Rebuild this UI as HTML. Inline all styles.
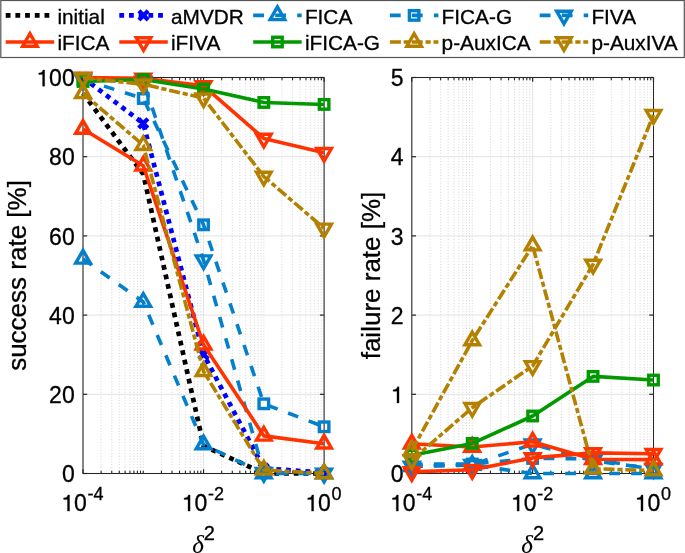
<!DOCTYPE html>
<html><head><meta charset="utf-8"><style>
html,body{margin:0;padding:0;background:#fff;}
svg{display:block;}
text{font-family:"Liberation Sans",sans-serif;fill:#000;stroke:#000;stroke-width:0.3px;}
svg{-webkit-font-smoothing:antialiased;will-change:transform;}
</style></head><body>
<svg width="685" height="553" viewBox="0 0 685 553">
<rect x="0" y="0" width="685" height="553" fill="#fff"/>
<line x1="101.14" y1="473.5" x2="101.14" y2="77.5" stroke="#d0d0d0" stroke-width="0.9" stroke-dasharray="1 1.78"/>
<line x1="111.76" y1="473.5" x2="111.76" y2="77.5" stroke="#d0d0d0" stroke-width="0.9" stroke-dasharray="1 1.78"/>
<line x1="119.29" y1="473.5" x2="119.29" y2="77.5" stroke="#d0d0d0" stroke-width="0.9" stroke-dasharray="1 1.78"/>
<line x1="125.13" y1="473.5" x2="125.13" y2="77.5" stroke="#d0d0d0" stroke-width="0.9" stroke-dasharray="1 1.78"/>
<line x1="129.9" y1="473.5" x2="129.9" y2="77.5" stroke="#d0d0d0" stroke-width="0.9" stroke-dasharray="1 1.78"/>
<line x1="133.94" y1="473.5" x2="133.94" y2="77.5" stroke="#d0d0d0" stroke-width="0.9" stroke-dasharray="1 1.78"/>
<line x1="137.43" y1="473.5" x2="137.43" y2="77.5" stroke="#d0d0d0" stroke-width="0.9" stroke-dasharray="1 1.78"/>
<line x1="140.52" y1="473.5" x2="140.52" y2="77.5" stroke="#d0d0d0" stroke-width="0.9" stroke-dasharray="1 1.78"/>
<line x1="161.42" y1="473.5" x2="161.42" y2="77.5" stroke="#d0d0d0" stroke-width="0.9" stroke-dasharray="1 1.78"/>
<line x1="172.03" y1="473.5" x2="172.03" y2="77.5" stroke="#d0d0d0" stroke-width="0.9" stroke-dasharray="1 1.78"/>
<line x1="179.56" y1="473.5" x2="179.56" y2="77.5" stroke="#d0d0d0" stroke-width="0.9" stroke-dasharray="1 1.78"/>
<line x1="185.41" y1="473.5" x2="185.41" y2="77.5" stroke="#d0d0d0" stroke-width="0.9" stroke-dasharray="1 1.78"/>
<line x1="190.18" y1="473.5" x2="190.18" y2="77.5" stroke="#d0d0d0" stroke-width="0.9" stroke-dasharray="1 1.78"/>
<line x1="194.21" y1="473.5" x2="194.21" y2="77.5" stroke="#d0d0d0" stroke-width="0.9" stroke-dasharray="1 1.78"/>
<line x1="197.71" y1="473.5" x2="197.71" y2="77.5" stroke="#d0d0d0" stroke-width="0.9" stroke-dasharray="1 1.78"/>
<line x1="200.79" y1="473.5" x2="200.79" y2="77.5" stroke="#d0d0d0" stroke-width="0.9" stroke-dasharray="1 1.78"/>
<line x1="221.69" y1="473.5" x2="221.69" y2="77.5" stroke="#d0d0d0" stroke-width="0.9" stroke-dasharray="1 1.78"/>
<line x1="232.31" y1="473.5" x2="232.31" y2="77.5" stroke="#d0d0d0" stroke-width="0.9" stroke-dasharray="1 1.78"/>
<line x1="239.84" y1="473.5" x2="239.84" y2="77.5" stroke="#d0d0d0" stroke-width="0.9" stroke-dasharray="1 1.78"/>
<line x1="245.68" y1="473.5" x2="245.68" y2="77.5" stroke="#d0d0d0" stroke-width="0.9" stroke-dasharray="1 1.78"/>
<line x1="250.45" y1="473.5" x2="250.45" y2="77.5" stroke="#d0d0d0" stroke-width="0.9" stroke-dasharray="1 1.78"/>
<line x1="254.49" y1="473.5" x2="254.49" y2="77.5" stroke="#d0d0d0" stroke-width="0.9" stroke-dasharray="1 1.78"/>
<line x1="257.98" y1="473.5" x2="257.98" y2="77.5" stroke="#d0d0d0" stroke-width="0.9" stroke-dasharray="1 1.78"/>
<line x1="261.07" y1="473.5" x2="261.07" y2="77.5" stroke="#d0d0d0" stroke-width="0.9" stroke-dasharray="1 1.78"/>
<line x1="281.97" y1="473.5" x2="281.97" y2="77.5" stroke="#d0d0d0" stroke-width="0.9" stroke-dasharray="1 1.78"/>
<line x1="292.58" y1="473.5" x2="292.58" y2="77.5" stroke="#d0d0d0" stroke-width="0.9" stroke-dasharray="1 1.78"/>
<line x1="300.11" y1="473.5" x2="300.11" y2="77.5" stroke="#d0d0d0" stroke-width="0.9" stroke-dasharray="1 1.78"/>
<line x1="305.96" y1="473.5" x2="305.96" y2="77.5" stroke="#d0d0d0" stroke-width="0.9" stroke-dasharray="1 1.78"/>
<line x1="310.73" y1="473.5" x2="310.73" y2="77.5" stroke="#d0d0d0" stroke-width="0.9" stroke-dasharray="1 1.78"/>
<line x1="314.76" y1="473.5" x2="314.76" y2="77.5" stroke="#d0d0d0" stroke-width="0.9" stroke-dasharray="1 1.78"/>
<line x1="318.26" y1="473.5" x2="318.26" y2="77.5" stroke="#d0d0d0" stroke-width="0.9" stroke-dasharray="1 1.78"/>
<line x1="321.34" y1="473.5" x2="321.34" y2="77.5" stroke="#d0d0d0" stroke-width="0.9" stroke-dasharray="1 1.78"/>
<line x1="143.28" y1="473.5" x2="143.28" y2="77.5" stroke="#d0d0d0" stroke-width="0.9" stroke-dasharray="1 1.78"/>
<line x1="263.83" y1="473.5" x2="263.83" y2="77.5" stroke="#d0d0d0" stroke-width="0.9" stroke-dasharray="1 1.78"/>
<line x1="83" y1="473.5" x2="83" y2="77.5" stroke="#e3e3e3" stroke-width="1"/>
<line x1="203.55" y1="473.5" x2="203.55" y2="77.5" stroke="#e3e3e3" stroke-width="1"/>
<line x1="324.1" y1="473.5" x2="324.1" y2="77.5" stroke="#e3e3e3" stroke-width="1"/>
<line x1="83" y1="473.5" x2="324.1" y2="473.5" stroke="#e3e3e3" stroke-width="1"/>
<line x1="83" y1="394.3" x2="324.1" y2="394.3" stroke="#e3e3e3" stroke-width="1"/>
<line x1="83" y1="315.1" x2="324.1" y2="315.1" stroke="#e3e3e3" stroke-width="1"/>
<line x1="83" y1="235.9" x2="324.1" y2="235.9" stroke="#e3e3e3" stroke-width="1"/>
<line x1="83" y1="156.7" x2="324.1" y2="156.7" stroke="#e3e3e3" stroke-width="1"/>
<line x1="83" y1="77.5" x2="324.1" y2="77.5" stroke="#e3e3e3" stroke-width="1"/>
<rect x="83" y="77.5" width="241.1" height="396" fill="none" stroke="#262626" stroke-width="1.05"/>
<line x1="83" y1="473.5" x2="83" y2="469.3" stroke="#262626" stroke-width="1.2"/>
<line x1="83" y1="77.5" x2="83" y2="81.7" stroke="#262626" stroke-width="1.2"/>
<line x1="203.55" y1="473.5" x2="203.55" y2="469.3" stroke="#262626" stroke-width="1.2"/>
<line x1="203.55" y1="77.5" x2="203.55" y2="81.7" stroke="#262626" stroke-width="1.2"/>
<line x1="324.1" y1="473.5" x2="324.1" y2="469.3" stroke="#262626" stroke-width="1.2"/>
<line x1="324.1" y1="77.5" x2="324.1" y2="81.7" stroke="#262626" stroke-width="1.2"/>
<line x1="101.14" y1="473.5" x2="101.14" y2="470.7" stroke="#262626" stroke-width="1.1"/>
<line x1="101.14" y1="77.5" x2="101.14" y2="80.3" stroke="#262626" stroke-width="1.1"/>
<line x1="111.76" y1="473.5" x2="111.76" y2="470.7" stroke="#262626" stroke-width="1.1"/>
<line x1="111.76" y1="77.5" x2="111.76" y2="80.3" stroke="#262626" stroke-width="1.1"/>
<line x1="119.29" y1="473.5" x2="119.29" y2="470.7" stroke="#262626" stroke-width="1.1"/>
<line x1="119.29" y1="77.5" x2="119.29" y2="80.3" stroke="#262626" stroke-width="1.1"/>
<line x1="125.13" y1="473.5" x2="125.13" y2="470.7" stroke="#262626" stroke-width="1.1"/>
<line x1="125.13" y1="77.5" x2="125.13" y2="80.3" stroke="#262626" stroke-width="1.1"/>
<line x1="129.9" y1="473.5" x2="129.9" y2="470.7" stroke="#262626" stroke-width="1.1"/>
<line x1="129.9" y1="77.5" x2="129.9" y2="80.3" stroke="#262626" stroke-width="1.1"/>
<line x1="133.94" y1="473.5" x2="133.94" y2="470.7" stroke="#262626" stroke-width="1.1"/>
<line x1="133.94" y1="77.5" x2="133.94" y2="80.3" stroke="#262626" stroke-width="1.1"/>
<line x1="137.43" y1="473.5" x2="137.43" y2="470.7" stroke="#262626" stroke-width="1.1"/>
<line x1="137.43" y1="77.5" x2="137.43" y2="80.3" stroke="#262626" stroke-width="1.1"/>
<line x1="140.52" y1="473.5" x2="140.52" y2="470.7" stroke="#262626" stroke-width="1.1"/>
<line x1="140.52" y1="77.5" x2="140.52" y2="80.3" stroke="#262626" stroke-width="1.1"/>
<line x1="161.42" y1="473.5" x2="161.42" y2="470.7" stroke="#262626" stroke-width="1.1"/>
<line x1="161.42" y1="77.5" x2="161.42" y2="80.3" stroke="#262626" stroke-width="1.1"/>
<line x1="172.03" y1="473.5" x2="172.03" y2="470.7" stroke="#262626" stroke-width="1.1"/>
<line x1="172.03" y1="77.5" x2="172.03" y2="80.3" stroke="#262626" stroke-width="1.1"/>
<line x1="179.56" y1="473.5" x2="179.56" y2="470.7" stroke="#262626" stroke-width="1.1"/>
<line x1="179.56" y1="77.5" x2="179.56" y2="80.3" stroke="#262626" stroke-width="1.1"/>
<line x1="185.41" y1="473.5" x2="185.41" y2="470.7" stroke="#262626" stroke-width="1.1"/>
<line x1="185.41" y1="77.5" x2="185.41" y2="80.3" stroke="#262626" stroke-width="1.1"/>
<line x1="190.18" y1="473.5" x2="190.18" y2="470.7" stroke="#262626" stroke-width="1.1"/>
<line x1="190.18" y1="77.5" x2="190.18" y2="80.3" stroke="#262626" stroke-width="1.1"/>
<line x1="194.21" y1="473.5" x2="194.21" y2="470.7" stroke="#262626" stroke-width="1.1"/>
<line x1="194.21" y1="77.5" x2="194.21" y2="80.3" stroke="#262626" stroke-width="1.1"/>
<line x1="197.71" y1="473.5" x2="197.71" y2="470.7" stroke="#262626" stroke-width="1.1"/>
<line x1="197.71" y1="77.5" x2="197.71" y2="80.3" stroke="#262626" stroke-width="1.1"/>
<line x1="200.79" y1="473.5" x2="200.79" y2="470.7" stroke="#262626" stroke-width="1.1"/>
<line x1="200.79" y1="77.5" x2="200.79" y2="80.3" stroke="#262626" stroke-width="1.1"/>
<line x1="221.69" y1="473.5" x2="221.69" y2="470.7" stroke="#262626" stroke-width="1.1"/>
<line x1="221.69" y1="77.5" x2="221.69" y2="80.3" stroke="#262626" stroke-width="1.1"/>
<line x1="232.31" y1="473.5" x2="232.31" y2="470.7" stroke="#262626" stroke-width="1.1"/>
<line x1="232.31" y1="77.5" x2="232.31" y2="80.3" stroke="#262626" stroke-width="1.1"/>
<line x1="239.84" y1="473.5" x2="239.84" y2="470.7" stroke="#262626" stroke-width="1.1"/>
<line x1="239.84" y1="77.5" x2="239.84" y2="80.3" stroke="#262626" stroke-width="1.1"/>
<line x1="245.68" y1="473.5" x2="245.68" y2="470.7" stroke="#262626" stroke-width="1.1"/>
<line x1="245.68" y1="77.5" x2="245.68" y2="80.3" stroke="#262626" stroke-width="1.1"/>
<line x1="250.45" y1="473.5" x2="250.45" y2="470.7" stroke="#262626" stroke-width="1.1"/>
<line x1="250.45" y1="77.5" x2="250.45" y2="80.3" stroke="#262626" stroke-width="1.1"/>
<line x1="254.49" y1="473.5" x2="254.49" y2="470.7" stroke="#262626" stroke-width="1.1"/>
<line x1="254.49" y1="77.5" x2="254.49" y2="80.3" stroke="#262626" stroke-width="1.1"/>
<line x1="257.98" y1="473.5" x2="257.98" y2="470.7" stroke="#262626" stroke-width="1.1"/>
<line x1="257.98" y1="77.5" x2="257.98" y2="80.3" stroke="#262626" stroke-width="1.1"/>
<line x1="261.07" y1="473.5" x2="261.07" y2="470.7" stroke="#262626" stroke-width="1.1"/>
<line x1="261.07" y1="77.5" x2="261.07" y2="80.3" stroke="#262626" stroke-width="1.1"/>
<line x1="281.97" y1="473.5" x2="281.97" y2="470.7" stroke="#262626" stroke-width="1.1"/>
<line x1="281.97" y1="77.5" x2="281.97" y2="80.3" stroke="#262626" stroke-width="1.1"/>
<line x1="292.58" y1="473.5" x2="292.58" y2="470.7" stroke="#262626" stroke-width="1.1"/>
<line x1="292.58" y1="77.5" x2="292.58" y2="80.3" stroke="#262626" stroke-width="1.1"/>
<line x1="300.11" y1="473.5" x2="300.11" y2="470.7" stroke="#262626" stroke-width="1.1"/>
<line x1="300.11" y1="77.5" x2="300.11" y2="80.3" stroke="#262626" stroke-width="1.1"/>
<line x1="305.96" y1="473.5" x2="305.96" y2="470.7" stroke="#262626" stroke-width="1.1"/>
<line x1="305.96" y1="77.5" x2="305.96" y2="80.3" stroke="#262626" stroke-width="1.1"/>
<line x1="310.73" y1="473.5" x2="310.73" y2="470.7" stroke="#262626" stroke-width="1.1"/>
<line x1="310.73" y1="77.5" x2="310.73" y2="80.3" stroke="#262626" stroke-width="1.1"/>
<line x1="314.76" y1="473.5" x2="314.76" y2="470.7" stroke="#262626" stroke-width="1.1"/>
<line x1="314.76" y1="77.5" x2="314.76" y2="80.3" stroke="#262626" stroke-width="1.1"/>
<line x1="318.26" y1="473.5" x2="318.26" y2="470.7" stroke="#262626" stroke-width="1.1"/>
<line x1="318.26" y1="77.5" x2="318.26" y2="80.3" stroke="#262626" stroke-width="1.1"/>
<line x1="321.34" y1="473.5" x2="321.34" y2="470.7" stroke="#262626" stroke-width="1.1"/>
<line x1="321.34" y1="77.5" x2="321.34" y2="80.3" stroke="#262626" stroke-width="1.1"/>
<line x1="143.28" y1="473.5" x2="143.28" y2="470.7" stroke="#262626" stroke-width="1.1"/>
<line x1="143.28" y1="77.5" x2="143.28" y2="80.3" stroke="#262626" stroke-width="1.1"/>
<line x1="263.83" y1="473.5" x2="263.83" y2="470.7" stroke="#262626" stroke-width="1.1"/>
<line x1="263.83" y1="77.5" x2="263.83" y2="80.3" stroke="#262626" stroke-width="1.1"/>
<line x1="83" y1="473.5" x2="87.2" y2="473.5" stroke="#262626" stroke-width="1.2"/>
<line x1="324.1" y1="473.5" x2="319.9" y2="473.5" stroke="#262626" stroke-width="1.2"/>
<line x1="83" y1="394.3" x2="87.2" y2="394.3" stroke="#262626" stroke-width="1.2"/>
<line x1="324.1" y1="394.3" x2="319.9" y2="394.3" stroke="#262626" stroke-width="1.2"/>
<line x1="83" y1="315.1" x2="87.2" y2="315.1" stroke="#262626" stroke-width="1.2"/>
<line x1="324.1" y1="315.1" x2="319.9" y2="315.1" stroke="#262626" stroke-width="1.2"/>
<line x1="83" y1="235.9" x2="87.2" y2="235.9" stroke="#262626" stroke-width="1.2"/>
<line x1="324.1" y1="235.9" x2="319.9" y2="235.9" stroke="#262626" stroke-width="1.2"/>
<line x1="83" y1="156.7" x2="87.2" y2="156.7" stroke="#262626" stroke-width="1.2"/>
<line x1="324.1" y1="156.7" x2="319.9" y2="156.7" stroke="#262626" stroke-width="1.2"/>
<line x1="83" y1="77.5" x2="87.2" y2="77.5" stroke="#262626" stroke-width="1.2"/>
<line x1="324.1" y1="77.5" x2="319.9" y2="77.5" stroke="#262626" stroke-width="1.2"/>
<text x="61.91" y="482.2" font-size="23">0</text>
<text x="49.12" y="403" font-size="23">20</text>
<text x="49.12" y="323.8" font-size="23">40</text>
<text x="49.12" y="244.6" font-size="23">60</text>
<text x="49.12" y="165.4" font-size="23">80</text>
<text x="36.33" y="86.2" font-size="23">&#8199;00</text>
<path d="M0.272,0L0.362,0L0.362,-0.703L0.290,-0.703C0.275,-0.62 0.22,-0.578 0.105,-0.574L0.105,-0.507L0.272,-0.507Z" transform="translate(36.33,86.2) scale(23)" fill="#000" stroke="#000" stroke-width="0.3" vector-effect="non-scaling-stroke"/>
<text x="61.21" y="511.1" font-size="23">&#8199;0<tspan font-size="18" dx="0.7" dy="-11.3">-4</tspan></text>
<path d="M0.272,0L0.362,0L0.362,-0.703L0.290,-0.703C0.275,-0.62 0.22,-0.578 0.105,-0.574L0.105,-0.507L0.272,-0.507Z" transform="translate(61.21,511.1) scale(23)" fill="#000" stroke="#000" stroke-width="0.3" vector-effect="non-scaling-stroke"/>
<text x="181.76" y="511.1" font-size="23">&#8199;0<tspan font-size="18" dx="0.7" dy="-11.3">-2</tspan></text>
<path d="M0.272,0L0.362,0L0.362,-0.703L0.290,-0.703C0.275,-0.62 0.22,-0.578 0.105,-0.574L0.105,-0.507L0.272,-0.507Z" transform="translate(181.76,511.1) scale(23)" fill="#000" stroke="#000" stroke-width="0.3" vector-effect="non-scaling-stroke"/>
<text x="305.3" y="511.1" font-size="23">&#8199;0<tspan font-size="18" dx="0.7" dy="-11.3">0</tspan></text>
<path d="M0.272,0L0.362,0L0.362,-0.703L0.290,-0.703C0.275,-0.62 0.22,-0.578 0.105,-0.574L0.105,-0.507L0.272,-0.507Z" transform="translate(305.3,511.1) scale(23)" fill="#000" stroke="#000" stroke-width="0.3" vector-effect="non-scaling-stroke"/>
<text transform="translate(25.6,275.5) rotate(-90)" font-size="26" text-anchor="middle">success rate [%]</text>
<text x="203.55" y="553" font-size="26" text-anchor="middle"><tspan font-family="Liberation Serif" font-style="italic" font-size="25" style="stroke-width:0.1px">&#948;</tspan><tspan font-size="20" dy="-13">2</tspan></text>
<line x1="429.99" y1="473.5" x2="429.99" y2="77.5" stroke="#d0d0d0" stroke-width="0.9" stroke-dasharray="1 1.78"/>
<line x1="440.63" y1="473.5" x2="440.63" y2="77.5" stroke="#d0d0d0" stroke-width="0.9" stroke-dasharray="1 1.78"/>
<line x1="448.18" y1="473.5" x2="448.18" y2="77.5" stroke="#d0d0d0" stroke-width="0.9" stroke-dasharray="1 1.78"/>
<line x1="454.04" y1="473.5" x2="454.04" y2="77.5" stroke="#d0d0d0" stroke-width="0.9" stroke-dasharray="1 1.78"/>
<line x1="458.82" y1="473.5" x2="458.82" y2="77.5" stroke="#d0d0d0" stroke-width="0.9" stroke-dasharray="1 1.78"/>
<line x1="462.87" y1="473.5" x2="462.87" y2="77.5" stroke="#d0d0d0" stroke-width="0.9" stroke-dasharray="1 1.78"/>
<line x1="466.37" y1="473.5" x2="466.37" y2="77.5" stroke="#d0d0d0" stroke-width="0.9" stroke-dasharray="1 1.78"/>
<line x1="469.46" y1="473.5" x2="469.46" y2="77.5" stroke="#d0d0d0" stroke-width="0.9" stroke-dasharray="1 1.78"/>
<line x1="490.41" y1="473.5" x2="490.41" y2="77.5" stroke="#d0d0d0" stroke-width="0.9" stroke-dasharray="1 1.78"/>
<line x1="501.06" y1="473.5" x2="501.06" y2="77.5" stroke="#d0d0d0" stroke-width="0.9" stroke-dasharray="1 1.78"/>
<line x1="508.6" y1="473.5" x2="508.6" y2="77.5" stroke="#d0d0d0" stroke-width="0.9" stroke-dasharray="1 1.78"/>
<line x1="514.46" y1="473.5" x2="514.46" y2="77.5" stroke="#d0d0d0" stroke-width="0.9" stroke-dasharray="1 1.78"/>
<line x1="519.24" y1="473.5" x2="519.24" y2="77.5" stroke="#d0d0d0" stroke-width="0.9" stroke-dasharray="1 1.78"/>
<line x1="523.29" y1="473.5" x2="523.29" y2="77.5" stroke="#d0d0d0" stroke-width="0.9" stroke-dasharray="1 1.78"/>
<line x1="526.79" y1="473.5" x2="526.79" y2="77.5" stroke="#d0d0d0" stroke-width="0.9" stroke-dasharray="1 1.78"/>
<line x1="529.89" y1="473.5" x2="529.89" y2="77.5" stroke="#d0d0d0" stroke-width="0.9" stroke-dasharray="1 1.78"/>
<line x1="550.84" y1="473.5" x2="550.84" y2="77.5" stroke="#d0d0d0" stroke-width="0.9" stroke-dasharray="1 1.78"/>
<line x1="561.48" y1="473.5" x2="561.48" y2="77.5" stroke="#d0d0d0" stroke-width="0.9" stroke-dasharray="1 1.78"/>
<line x1="569.03" y1="473.5" x2="569.03" y2="77.5" stroke="#d0d0d0" stroke-width="0.9" stroke-dasharray="1 1.78"/>
<line x1="574.89" y1="473.5" x2="574.89" y2="77.5" stroke="#d0d0d0" stroke-width="0.9" stroke-dasharray="1 1.78"/>
<line x1="579.67" y1="473.5" x2="579.67" y2="77.5" stroke="#d0d0d0" stroke-width="0.9" stroke-dasharray="1 1.78"/>
<line x1="583.72" y1="473.5" x2="583.72" y2="77.5" stroke="#d0d0d0" stroke-width="0.9" stroke-dasharray="1 1.78"/>
<line x1="587.22" y1="473.5" x2="587.22" y2="77.5" stroke="#d0d0d0" stroke-width="0.9" stroke-dasharray="1 1.78"/>
<line x1="590.31" y1="473.5" x2="590.31" y2="77.5" stroke="#d0d0d0" stroke-width="0.9" stroke-dasharray="1 1.78"/>
<line x1="611.26" y1="473.5" x2="611.26" y2="77.5" stroke="#d0d0d0" stroke-width="0.9" stroke-dasharray="1 1.78"/>
<line x1="621.91" y1="473.5" x2="621.91" y2="77.5" stroke="#d0d0d0" stroke-width="0.9" stroke-dasharray="1 1.78"/>
<line x1="629.45" y1="473.5" x2="629.45" y2="77.5" stroke="#d0d0d0" stroke-width="0.9" stroke-dasharray="1 1.78"/>
<line x1="635.31" y1="473.5" x2="635.31" y2="77.5" stroke="#d0d0d0" stroke-width="0.9" stroke-dasharray="1 1.78"/>
<line x1="640.09" y1="473.5" x2="640.09" y2="77.5" stroke="#d0d0d0" stroke-width="0.9" stroke-dasharray="1 1.78"/>
<line x1="644.14" y1="473.5" x2="644.14" y2="77.5" stroke="#d0d0d0" stroke-width="0.9" stroke-dasharray="1 1.78"/>
<line x1="647.64" y1="473.5" x2="647.64" y2="77.5" stroke="#d0d0d0" stroke-width="0.9" stroke-dasharray="1 1.78"/>
<line x1="650.74" y1="473.5" x2="650.74" y2="77.5" stroke="#d0d0d0" stroke-width="0.9" stroke-dasharray="1 1.78"/>
<line x1="472.23" y1="473.5" x2="472.23" y2="77.5" stroke="#d0d0d0" stroke-width="0.9" stroke-dasharray="1 1.78"/>
<line x1="593.08" y1="473.5" x2="593.08" y2="77.5" stroke="#d0d0d0" stroke-width="0.9" stroke-dasharray="1 1.78"/>
<line x1="411.8" y1="473.5" x2="411.8" y2="77.5" stroke="#e3e3e3" stroke-width="1"/>
<line x1="532.65" y1="473.5" x2="532.65" y2="77.5" stroke="#e3e3e3" stroke-width="1"/>
<line x1="653.5" y1="473.5" x2="653.5" y2="77.5" stroke="#e3e3e3" stroke-width="1"/>
<line x1="411.8" y1="473.5" x2="653.5" y2="473.5" stroke="#e3e3e3" stroke-width="1"/>
<line x1="411.8" y1="394.3" x2="653.5" y2="394.3" stroke="#e3e3e3" stroke-width="1"/>
<line x1="411.8" y1="315.1" x2="653.5" y2="315.1" stroke="#e3e3e3" stroke-width="1"/>
<line x1="411.8" y1="235.9" x2="653.5" y2="235.9" stroke="#e3e3e3" stroke-width="1"/>
<line x1="411.8" y1="156.7" x2="653.5" y2="156.7" stroke="#e3e3e3" stroke-width="1"/>
<line x1="411.8" y1="77.5" x2="653.5" y2="77.5" stroke="#e3e3e3" stroke-width="1"/>
<rect x="411.8" y="77.5" width="241.7" height="396" fill="none" stroke="#262626" stroke-width="1.05"/>
<line x1="411.8" y1="473.5" x2="411.8" y2="469.3" stroke="#262626" stroke-width="1.2"/>
<line x1="411.8" y1="77.5" x2="411.8" y2="81.7" stroke="#262626" stroke-width="1.2"/>
<line x1="532.65" y1="473.5" x2="532.65" y2="469.3" stroke="#262626" stroke-width="1.2"/>
<line x1="532.65" y1="77.5" x2="532.65" y2="81.7" stroke="#262626" stroke-width="1.2"/>
<line x1="653.5" y1="473.5" x2="653.5" y2="469.3" stroke="#262626" stroke-width="1.2"/>
<line x1="653.5" y1="77.5" x2="653.5" y2="81.7" stroke="#262626" stroke-width="1.2"/>
<line x1="429.99" y1="473.5" x2="429.99" y2="470.7" stroke="#262626" stroke-width="1.1"/>
<line x1="429.99" y1="77.5" x2="429.99" y2="80.3" stroke="#262626" stroke-width="1.1"/>
<line x1="440.63" y1="473.5" x2="440.63" y2="470.7" stroke="#262626" stroke-width="1.1"/>
<line x1="440.63" y1="77.5" x2="440.63" y2="80.3" stroke="#262626" stroke-width="1.1"/>
<line x1="448.18" y1="473.5" x2="448.18" y2="470.7" stroke="#262626" stroke-width="1.1"/>
<line x1="448.18" y1="77.5" x2="448.18" y2="80.3" stroke="#262626" stroke-width="1.1"/>
<line x1="454.04" y1="473.5" x2="454.04" y2="470.7" stroke="#262626" stroke-width="1.1"/>
<line x1="454.04" y1="77.5" x2="454.04" y2="80.3" stroke="#262626" stroke-width="1.1"/>
<line x1="458.82" y1="473.5" x2="458.82" y2="470.7" stroke="#262626" stroke-width="1.1"/>
<line x1="458.82" y1="77.5" x2="458.82" y2="80.3" stroke="#262626" stroke-width="1.1"/>
<line x1="462.87" y1="473.5" x2="462.87" y2="470.7" stroke="#262626" stroke-width="1.1"/>
<line x1="462.87" y1="77.5" x2="462.87" y2="80.3" stroke="#262626" stroke-width="1.1"/>
<line x1="466.37" y1="473.5" x2="466.37" y2="470.7" stroke="#262626" stroke-width="1.1"/>
<line x1="466.37" y1="77.5" x2="466.37" y2="80.3" stroke="#262626" stroke-width="1.1"/>
<line x1="469.46" y1="473.5" x2="469.46" y2="470.7" stroke="#262626" stroke-width="1.1"/>
<line x1="469.46" y1="77.5" x2="469.46" y2="80.3" stroke="#262626" stroke-width="1.1"/>
<line x1="490.41" y1="473.5" x2="490.41" y2="470.7" stroke="#262626" stroke-width="1.1"/>
<line x1="490.41" y1="77.5" x2="490.41" y2="80.3" stroke="#262626" stroke-width="1.1"/>
<line x1="501.06" y1="473.5" x2="501.06" y2="470.7" stroke="#262626" stroke-width="1.1"/>
<line x1="501.06" y1="77.5" x2="501.06" y2="80.3" stroke="#262626" stroke-width="1.1"/>
<line x1="508.6" y1="473.5" x2="508.6" y2="470.7" stroke="#262626" stroke-width="1.1"/>
<line x1="508.6" y1="77.5" x2="508.6" y2="80.3" stroke="#262626" stroke-width="1.1"/>
<line x1="514.46" y1="473.5" x2="514.46" y2="470.7" stroke="#262626" stroke-width="1.1"/>
<line x1="514.46" y1="77.5" x2="514.46" y2="80.3" stroke="#262626" stroke-width="1.1"/>
<line x1="519.24" y1="473.5" x2="519.24" y2="470.7" stroke="#262626" stroke-width="1.1"/>
<line x1="519.24" y1="77.5" x2="519.24" y2="80.3" stroke="#262626" stroke-width="1.1"/>
<line x1="523.29" y1="473.5" x2="523.29" y2="470.7" stroke="#262626" stroke-width="1.1"/>
<line x1="523.29" y1="77.5" x2="523.29" y2="80.3" stroke="#262626" stroke-width="1.1"/>
<line x1="526.79" y1="473.5" x2="526.79" y2="470.7" stroke="#262626" stroke-width="1.1"/>
<line x1="526.79" y1="77.5" x2="526.79" y2="80.3" stroke="#262626" stroke-width="1.1"/>
<line x1="529.89" y1="473.5" x2="529.89" y2="470.7" stroke="#262626" stroke-width="1.1"/>
<line x1="529.89" y1="77.5" x2="529.89" y2="80.3" stroke="#262626" stroke-width="1.1"/>
<line x1="550.84" y1="473.5" x2="550.84" y2="470.7" stroke="#262626" stroke-width="1.1"/>
<line x1="550.84" y1="77.5" x2="550.84" y2="80.3" stroke="#262626" stroke-width="1.1"/>
<line x1="561.48" y1="473.5" x2="561.48" y2="470.7" stroke="#262626" stroke-width="1.1"/>
<line x1="561.48" y1="77.5" x2="561.48" y2="80.3" stroke="#262626" stroke-width="1.1"/>
<line x1="569.03" y1="473.5" x2="569.03" y2="470.7" stroke="#262626" stroke-width="1.1"/>
<line x1="569.03" y1="77.5" x2="569.03" y2="80.3" stroke="#262626" stroke-width="1.1"/>
<line x1="574.89" y1="473.5" x2="574.89" y2="470.7" stroke="#262626" stroke-width="1.1"/>
<line x1="574.89" y1="77.5" x2="574.89" y2="80.3" stroke="#262626" stroke-width="1.1"/>
<line x1="579.67" y1="473.5" x2="579.67" y2="470.7" stroke="#262626" stroke-width="1.1"/>
<line x1="579.67" y1="77.5" x2="579.67" y2="80.3" stroke="#262626" stroke-width="1.1"/>
<line x1="583.72" y1="473.5" x2="583.72" y2="470.7" stroke="#262626" stroke-width="1.1"/>
<line x1="583.72" y1="77.5" x2="583.72" y2="80.3" stroke="#262626" stroke-width="1.1"/>
<line x1="587.22" y1="473.5" x2="587.22" y2="470.7" stroke="#262626" stroke-width="1.1"/>
<line x1="587.22" y1="77.5" x2="587.22" y2="80.3" stroke="#262626" stroke-width="1.1"/>
<line x1="590.31" y1="473.5" x2="590.31" y2="470.7" stroke="#262626" stroke-width="1.1"/>
<line x1="590.31" y1="77.5" x2="590.31" y2="80.3" stroke="#262626" stroke-width="1.1"/>
<line x1="611.26" y1="473.5" x2="611.26" y2="470.7" stroke="#262626" stroke-width="1.1"/>
<line x1="611.26" y1="77.5" x2="611.26" y2="80.3" stroke="#262626" stroke-width="1.1"/>
<line x1="621.91" y1="473.5" x2="621.91" y2="470.7" stroke="#262626" stroke-width="1.1"/>
<line x1="621.91" y1="77.5" x2="621.91" y2="80.3" stroke="#262626" stroke-width="1.1"/>
<line x1="629.45" y1="473.5" x2="629.45" y2="470.7" stroke="#262626" stroke-width="1.1"/>
<line x1="629.45" y1="77.5" x2="629.45" y2="80.3" stroke="#262626" stroke-width="1.1"/>
<line x1="635.31" y1="473.5" x2="635.31" y2="470.7" stroke="#262626" stroke-width="1.1"/>
<line x1="635.31" y1="77.5" x2="635.31" y2="80.3" stroke="#262626" stroke-width="1.1"/>
<line x1="640.09" y1="473.5" x2="640.09" y2="470.7" stroke="#262626" stroke-width="1.1"/>
<line x1="640.09" y1="77.5" x2="640.09" y2="80.3" stroke="#262626" stroke-width="1.1"/>
<line x1="644.14" y1="473.5" x2="644.14" y2="470.7" stroke="#262626" stroke-width="1.1"/>
<line x1="644.14" y1="77.5" x2="644.14" y2="80.3" stroke="#262626" stroke-width="1.1"/>
<line x1="647.64" y1="473.5" x2="647.64" y2="470.7" stroke="#262626" stroke-width="1.1"/>
<line x1="647.64" y1="77.5" x2="647.64" y2="80.3" stroke="#262626" stroke-width="1.1"/>
<line x1="650.74" y1="473.5" x2="650.74" y2="470.7" stroke="#262626" stroke-width="1.1"/>
<line x1="650.74" y1="77.5" x2="650.74" y2="80.3" stroke="#262626" stroke-width="1.1"/>
<line x1="472.23" y1="473.5" x2="472.23" y2="470.7" stroke="#262626" stroke-width="1.1"/>
<line x1="472.23" y1="77.5" x2="472.23" y2="80.3" stroke="#262626" stroke-width="1.1"/>
<line x1="593.08" y1="473.5" x2="593.08" y2="470.7" stroke="#262626" stroke-width="1.1"/>
<line x1="593.08" y1="77.5" x2="593.08" y2="80.3" stroke="#262626" stroke-width="1.1"/>
<line x1="411.8" y1="473.5" x2="416" y2="473.5" stroke="#262626" stroke-width="1.2"/>
<line x1="653.5" y1="473.5" x2="649.3" y2="473.5" stroke="#262626" stroke-width="1.2"/>
<line x1="411.8" y1="394.3" x2="416" y2="394.3" stroke="#262626" stroke-width="1.2"/>
<line x1="653.5" y1="394.3" x2="649.3" y2="394.3" stroke="#262626" stroke-width="1.2"/>
<line x1="411.8" y1="315.1" x2="416" y2="315.1" stroke="#262626" stroke-width="1.2"/>
<line x1="653.5" y1="315.1" x2="649.3" y2="315.1" stroke="#262626" stroke-width="1.2"/>
<line x1="411.8" y1="235.9" x2="416" y2="235.9" stroke="#262626" stroke-width="1.2"/>
<line x1="653.5" y1="235.9" x2="649.3" y2="235.9" stroke="#262626" stroke-width="1.2"/>
<line x1="411.8" y1="156.7" x2="416" y2="156.7" stroke="#262626" stroke-width="1.2"/>
<line x1="653.5" y1="156.7" x2="649.3" y2="156.7" stroke="#262626" stroke-width="1.2"/>
<line x1="411.8" y1="77.5" x2="416" y2="77.5" stroke="#262626" stroke-width="1.2"/>
<line x1="653.5" y1="77.5" x2="649.3" y2="77.5" stroke="#262626" stroke-width="1.2"/>
<text x="390.71" y="482.2" font-size="23">0</text>
<text x="390.71" y="403" font-size="23">&#8199;</text>
<path d="M0.272,0L0.362,0L0.362,-0.703L0.290,-0.703C0.275,-0.62 0.22,-0.578 0.105,-0.574L0.105,-0.507L0.272,-0.507Z" transform="translate(390.71,403) scale(23)" fill="#000" stroke="#000" stroke-width="0.3" vector-effect="non-scaling-stroke"/>
<text x="390.71" y="323.8" font-size="23">2</text>
<text x="390.71" y="244.6" font-size="23">3</text>
<text x="390.71" y="165.4" font-size="23">4</text>
<text x="390.71" y="86.2" font-size="23">5</text>
<text x="390.01" y="511.1" font-size="23">&#8199;0<tspan font-size="18" dx="0.7" dy="-11.3">-4</tspan></text>
<path d="M0.272,0L0.362,0L0.362,-0.703L0.290,-0.703C0.275,-0.62 0.22,-0.578 0.105,-0.574L0.105,-0.507L0.272,-0.507Z" transform="translate(390.01,511.1) scale(23)" fill="#000" stroke="#000" stroke-width="0.3" vector-effect="non-scaling-stroke"/>
<text x="510.86" y="511.1" font-size="23">&#8199;0<tspan font-size="18" dx="0.7" dy="-11.3">-2</tspan></text>
<path d="M0.272,0L0.362,0L0.362,-0.703L0.290,-0.703C0.275,-0.62 0.22,-0.578 0.105,-0.574L0.105,-0.507L0.272,-0.507Z" transform="translate(510.86,511.1) scale(23)" fill="#000" stroke="#000" stroke-width="0.3" vector-effect="non-scaling-stroke"/>
<text x="634.7" y="511.1" font-size="23">&#8199;0<tspan font-size="18" dx="0.7" dy="-11.3">0</tspan></text>
<path d="M0.272,0L0.362,0L0.362,-0.703L0.290,-0.703C0.275,-0.62 0.22,-0.578 0.105,-0.574L0.105,-0.507L0.272,-0.507Z" transform="translate(634.7,511.1) scale(23)" fill="#000" stroke="#000" stroke-width="0.3" vector-effect="non-scaling-stroke"/>
<text transform="translate(380,275.5) rotate(-90)" font-size="26" text-anchor="middle">failure rate [%]</text>
<text x="532.65" y="553" font-size="26" text-anchor="middle"><tspan font-family="Liberation Serif" font-style="italic" font-size="25" style="stroke-width:0.1px">&#948;</tspan><tspan font-size="20" dy="-13">2</tspan></text>
<polyline points="83,93.34 143.28,174.12 203.55,445.78 263.83,473.5 324.1,473.5" stroke="#000000" stroke-width="4.7" fill="none" stroke-dasharray="4.8 4.9"/>
<polyline points="83,77.5 143.28,123.44 203.55,354.3 263.83,468.35 324.1,472.71" stroke="#0000FF" stroke-width="4.7" fill="none" stroke-dasharray="4.8 4.9"/>
<path d="M78.4,72.9L87.6,82.1M78.4,82.1L87.6,72.9" stroke="#0000FF" stroke-width="4.3" fill="none"/>
<path d="M138.68,118.84L147.88,128.04M138.68,128.04L147.88,118.84" stroke="#0000FF" stroke-width="4.3" fill="none"/>
<path d="M198.95,349.7L208.15,358.9M198.95,358.9L208.15,349.7" stroke="#0000FF" stroke-width="4.3" fill="none"/>
<path d="M259.23,463.75L268.43,472.95M259.23,472.95L268.43,463.75" stroke="#0000FF" stroke-width="4.3" fill="none"/>
<path d="M319.5,468.11L328.7,477.31M319.5,477.31L328.7,468.11" stroke="#0000FF" stroke-width="4.3" fill="none"/>
<polyline points="83,258.87 143.28,302.03 203.55,444.59 263.83,473.5 324.1,473.5" stroke="#037FCC" stroke-width="3.6" fill="none" stroke-dasharray="10.8 11.2"/>
<polygon points="83,250.44 75.7,263.08 90.3,263.08" fill="none" stroke="#037FCC" stroke-width="3.4" stroke-linejoin="miter" stroke-miterlimit="10"/>
<polygon points="143.28,293.6 135.97,306.25 150.58,306.25" fill="none" stroke="#037FCC" stroke-width="3.4" stroke-linejoin="miter" stroke-miterlimit="10"/>
<polygon points="203.55,436.16 196.25,448.81 210.85,448.81" fill="none" stroke="#037FCC" stroke-width="3.4" stroke-linejoin="miter" stroke-miterlimit="10"/>
<polygon points="263.83,465.07 256.53,477.71 271.13,477.71" fill="none" stroke="#037FCC" stroke-width="3.4" stroke-linejoin="miter" stroke-miterlimit="10"/>
<polygon points="324.1,465.07 316.8,477.71 331.4,477.71" fill="none" stroke="#037FCC" stroke-width="3.4" stroke-linejoin="miter" stroke-miterlimit="10"/>
<polyline points="83,79.48 143.28,98.49 203.55,224.81 263.83,403.8 324.1,426.77" stroke="#037FCC" stroke-width="3.6" fill="none" stroke-dasharray="10.8 11.2"/>
<rect x="78.25" y="74.73" width="9.5" height="9.5" fill="none" stroke="#037FCC" stroke-width="3.4"/>
<rect x="138.53" y="93.74" width="9.5" height="9.5" fill="none" stroke="#037FCC" stroke-width="3.4"/>
<rect x="198.8" y="220.06" width="9.5" height="9.5" fill="none" stroke="#037FCC" stroke-width="3.4"/>
<rect x="259.08" y="399.05" width="9.5" height="9.5" fill="none" stroke="#037FCC" stroke-width="3.4"/>
<rect x="319.35" y="422.02" width="9.5" height="9.5" fill="none" stroke="#037FCC" stroke-width="3.4"/>
<polyline points="83,79.48 143.28,81.46 203.55,260.06 263.83,472.71 324.1,473.5" stroke="#037FCC" stroke-width="3.6" fill="none" stroke-dasharray="10.8 11.2"/>
<polygon points="83,87.91 75.7,75.27 90.3,75.27" fill="none" stroke="#037FCC" stroke-width="3.4" stroke-linejoin="miter" stroke-miterlimit="10"/>
<polygon points="143.28,89.89 135.97,77.25 150.58,77.25" fill="none" stroke="#037FCC" stroke-width="3.4" stroke-linejoin="miter" stroke-miterlimit="10"/>
<polygon points="203.55,268.49 196.25,255.84 210.85,255.84" fill="none" stroke="#037FCC" stroke-width="3.4" stroke-linejoin="miter" stroke-miterlimit="10"/>
<polygon points="263.83,481.14 256.53,468.49 271.13,468.49" fill="none" stroke="#037FCC" stroke-width="3.4" stroke-linejoin="miter" stroke-miterlimit="10"/>
<polygon points="324.1,481.93 316.8,469.29 331.4,469.29" fill="none" stroke="#037FCC" stroke-width="3.4" stroke-linejoin="miter" stroke-miterlimit="10"/>
<polyline points="83,128.98 143.28,165.81 203.55,344.8 263.83,435.88 324.1,443.8" stroke="#FF3300" stroke-width="3.6" fill="none" stroke-linejoin="round"/>
<polygon points="83,120.55 75.7,133.19 90.3,133.19" fill="none" stroke="#FF3300" stroke-width="3.4" stroke-linejoin="miter" stroke-miterlimit="10"/>
<polygon points="143.28,157.38 135.97,170.02 150.58,170.02" fill="none" stroke="#FF3300" stroke-width="3.4" stroke-linejoin="miter" stroke-miterlimit="10"/>
<polygon points="203.55,336.37 196.25,349.01 210.85,349.01" fill="none" stroke="#FF3300" stroke-width="3.4" stroke-linejoin="miter" stroke-miterlimit="10"/>
<polygon points="263.83,427.45 256.53,440.09 271.13,440.09" fill="none" stroke="#FF3300" stroke-width="3.4" stroke-linejoin="miter" stroke-miterlimit="10"/>
<polygon points="324.1,435.37 316.8,448.01 331.4,448.01" fill="none" stroke="#FF3300" stroke-width="3.4" stroke-linejoin="miter" stroke-miterlimit="10"/>
<polyline points="83,77.5 143.28,78.29 203.55,85.82 263.83,138.48 324.1,152.74" stroke="#FF3300" stroke-width="3.6" fill="none" stroke-linejoin="round"/>
<polygon points="83,85.93 75.7,73.29 90.3,73.29" fill="none" stroke="#FF3300" stroke-width="3.4" stroke-linejoin="miter" stroke-miterlimit="10"/>
<polygon points="143.28,86.72 135.97,74.08 150.58,74.08" fill="none" stroke="#FF3300" stroke-width="3.4" stroke-linejoin="miter" stroke-miterlimit="10"/>
<polygon points="203.55,94.25 196.25,81.6 210.85,81.6" fill="none" stroke="#FF3300" stroke-width="3.4" stroke-linejoin="miter" stroke-miterlimit="10"/>
<polygon points="263.83,146.91 256.53,134.27 271.13,134.27" fill="none" stroke="#FF3300" stroke-width="3.4" stroke-linejoin="miter" stroke-miterlimit="10"/>
<polygon points="324.1,161.17 316.8,148.53 331.4,148.53" fill="none" stroke="#FF3300" stroke-width="3.4" stroke-linejoin="miter" stroke-miterlimit="10"/>
<polyline points="83,81.46 143.28,79.48 203.55,88.98 263.83,102.45 324.1,104.43" stroke="#009900" stroke-width="3.6" fill="none" stroke-linejoin="round"/>
<rect x="78.25" y="76.71" width="9.5" height="9.5" fill="none" stroke="#009900" stroke-width="3.4"/>
<rect x="138.53" y="74.73" width="9.5" height="9.5" fill="none" stroke="#009900" stroke-width="3.4"/>
<rect x="198.8" y="84.23" width="9.5" height="9.5" fill="none" stroke="#009900" stroke-width="3.4"/>
<rect x="259.08" y="97.7" width="9.5" height="9.5" fill="none" stroke="#009900" stroke-width="3.4"/>
<rect x="319.35" y="99.68" width="9.5" height="9.5" fill="none" stroke="#009900" stroke-width="3.4"/>
<polyline points="83,93.34 143.28,145.22 203.55,371.33 263.83,469.94 324.1,473.5" stroke="#B38000" stroke-width="3.6" fill="none" stroke-dasharray="11 2.8 5.2 2.8"/>
<polygon points="83,84.91 75.7,97.55 90.3,97.55" fill="none" stroke="#B38000" stroke-width="3.4" stroke-linejoin="miter" stroke-miterlimit="10"/>
<polygon points="143.28,136.79 135.97,149.43 150.58,149.43" fill="none" stroke="#B38000" stroke-width="3.4" stroke-linejoin="miter" stroke-miterlimit="10"/>
<polygon points="203.55,362.9 196.25,375.55 210.85,375.55" fill="none" stroke="#B38000" stroke-width="3.4" stroke-linejoin="miter" stroke-miterlimit="10"/>
<polygon points="263.83,461.51 256.53,474.15 271.13,474.15" fill="none" stroke="#B38000" stroke-width="3.4" stroke-linejoin="miter" stroke-miterlimit="10"/>
<polygon points="324.1,465.07 316.8,477.71 331.4,477.71" fill="none" stroke="#B38000" stroke-width="3.4" stroke-linejoin="miter" stroke-miterlimit="10"/>
<polyline points="83,77.9 143.28,84.23 203.55,98.09 263.83,176.5 324.1,228.38" stroke="#B38000" stroke-width="3.6" fill="none" stroke-dasharray="11 2.8 5.2 2.8"/>
<polygon points="83,86.33 75.7,73.68 90.3,73.68" fill="none" stroke="#B38000" stroke-width="3.4" stroke-linejoin="miter" stroke-miterlimit="10"/>
<polygon points="143.28,92.66 135.97,80.02 150.58,80.02" fill="none" stroke="#B38000" stroke-width="3.4" stroke-linejoin="miter" stroke-miterlimit="10"/>
<polygon points="203.55,106.52 196.25,93.88 210.85,93.88" fill="none" stroke="#B38000" stroke-width="3.4" stroke-linejoin="miter" stroke-miterlimit="10"/>
<polygon points="263.83,184.93 256.53,172.29 271.13,172.29" fill="none" stroke="#B38000" stroke-width="3.4" stroke-linejoin="miter" stroke-miterlimit="10"/>
<polygon points="324.1,236.81 316.8,224.16 331.4,224.16" fill="none" stroke="#B38000" stroke-width="3.4" stroke-linejoin="miter" stroke-miterlimit="10"/>
<polyline points="411.8,466.37 472.23,465.1 532.65,473.5 593.08,473.5 653.5,473.5" stroke="#037FCC" stroke-width="3.6" fill="none" stroke-dasharray="10.8 11.2"/>
<polygon points="411.8,457.94 404.5,470.59 419.1,470.59" fill="none" stroke="#037FCC" stroke-width="3.4" stroke-linejoin="miter" stroke-miterlimit="10"/>
<polygon points="472.23,456.68 464.93,469.32 479.53,469.32" fill="none" stroke="#037FCC" stroke-width="3.4" stroke-linejoin="miter" stroke-miterlimit="10"/>
<polygon points="532.65,465.07 525.35,477.71 539.95,477.71" fill="none" stroke="#037FCC" stroke-width="3.4" stroke-linejoin="miter" stroke-miterlimit="10"/>
<polygon points="593.08,465.07 585.78,477.71 600.38,477.71" fill="none" stroke="#037FCC" stroke-width="3.4" stroke-linejoin="miter" stroke-miterlimit="10"/>
<polygon points="653.5,465.07 646.2,477.71 660.8,477.71" fill="none" stroke="#037FCC" stroke-width="3.4" stroke-linejoin="miter" stroke-miterlimit="10"/>
<polyline points="411.8,464 472.23,464 532.65,458.45 593.08,458.77 653.5,469.54" stroke="#037FCC" stroke-width="3.6" fill="none" stroke-dasharray="10.8 11.2"/>
<rect x="407.05" y="459.25" width="9.5" height="9.5" fill="none" stroke="#037FCC" stroke-width="3.4"/>
<rect x="467.48" y="459.25" width="9.5" height="9.5" fill="none" stroke="#037FCC" stroke-width="3.4"/>
<rect x="527.9" y="453.7" width="9.5" height="9.5" fill="none" stroke="#037FCC" stroke-width="3.4"/>
<rect x="588.33" y="454.02" width="9.5" height="9.5" fill="none" stroke="#037FCC" stroke-width="3.4"/>
<rect x="648.75" y="464.79" width="9.5" height="9.5" fill="none" stroke="#037FCC" stroke-width="3.4"/>
<polyline points="411.8,466.37 472.23,464.79 532.65,444.2 593.08,460.83 653.5,468.75" stroke="#037FCC" stroke-width="3.6" fill="none" stroke-dasharray="10.8 11.2"/>
<polygon points="411.8,474.8 404.5,462.16 419.1,462.16" fill="none" stroke="#037FCC" stroke-width="3.4" stroke-linejoin="miter" stroke-miterlimit="10"/>
<polygon points="472.23,473.22 464.93,460.57 479.53,460.57" fill="none" stroke="#037FCC" stroke-width="3.4" stroke-linejoin="miter" stroke-miterlimit="10"/>
<polygon points="532.65,452.63 525.35,439.98 539.95,439.98" fill="none" stroke="#037FCC" stroke-width="3.4" stroke-linejoin="miter" stroke-miterlimit="10"/>
<polygon points="593.08,469.26 585.78,456.61 600.38,456.61" fill="none" stroke="#037FCC" stroke-width="3.4" stroke-linejoin="miter" stroke-miterlimit="10"/>
<polygon points="653.5,477.18 646.2,464.53 660.8,464.53" fill="none" stroke="#037FCC" stroke-width="3.4" stroke-linejoin="miter" stroke-miterlimit="10"/>
<polyline points="411.8,443.8 472.23,446.97 532.65,441.82 593.08,459.24 653.5,459.64" stroke="#FF3300" stroke-width="3.6" fill="none" stroke-linejoin="round"/>
<polygon points="411.8,435.37 404.5,448.01 419.1,448.01" fill="none" stroke="#FF3300" stroke-width="3.4" stroke-linejoin="miter" stroke-miterlimit="10"/>
<polygon points="472.23,438.54 464.93,451.18 479.53,451.18" fill="none" stroke="#FF3300" stroke-width="3.4" stroke-linejoin="miter" stroke-miterlimit="10"/>
<polygon points="532.65,433.39 525.35,446.03 539.95,446.03" fill="none" stroke="#FF3300" stroke-width="3.4" stroke-linejoin="miter" stroke-miterlimit="10"/>
<polygon points="593.08,450.81 585.78,463.46 600.38,463.46" fill="none" stroke="#FF3300" stroke-width="3.4" stroke-linejoin="miter" stroke-miterlimit="10"/>
<polygon points="653.5,451.21 646.2,463.85 660.8,463.85" fill="none" stroke="#FF3300" stroke-width="3.4" stroke-linejoin="miter" stroke-miterlimit="10"/>
<polyline points="411.8,471.92 472.23,469.78 532.65,457.9 593.08,452.91 653.5,453.7" stroke="#FF3300" stroke-width="3.6" fill="none" stroke-linejoin="round"/>
<polygon points="411.8,480.35 404.5,467.7 419.1,467.7" fill="none" stroke="#FF3300" stroke-width="3.4" stroke-linejoin="miter" stroke-miterlimit="10"/>
<polygon points="472.23,478.21 464.93,465.56 479.53,465.56" fill="none" stroke="#FF3300" stroke-width="3.4" stroke-linejoin="miter" stroke-miterlimit="10"/>
<polygon points="532.65,466.33 525.35,453.68 539.95,453.68" fill="none" stroke="#FF3300" stroke-width="3.4" stroke-linejoin="miter" stroke-miterlimit="10"/>
<polygon points="593.08,461.34 585.78,448.69 600.38,448.69" fill="none" stroke="#FF3300" stroke-width="3.4" stroke-linejoin="miter" stroke-miterlimit="10"/>
<polygon points="653.5,462.13 646.2,449.49 660.8,449.49" fill="none" stroke="#FF3300" stroke-width="3.4" stroke-linejoin="miter" stroke-miterlimit="10"/>
<polyline points="411.8,455.28 472.23,443.4 532.65,416 593.08,376.4 653.5,380.04" stroke="#009900" stroke-width="3.6" fill="none" stroke-linejoin="round"/>
<rect x="407.05" y="450.53" width="9.5" height="9.5" fill="none" stroke="#009900" stroke-width="3.4"/>
<rect x="467.48" y="438.65" width="9.5" height="9.5" fill="none" stroke="#009900" stroke-width="3.4"/>
<rect x="527.9" y="411.25" width="9.5" height="9.5" fill="none" stroke="#009900" stroke-width="3.4"/>
<rect x="588.33" y="371.65" width="9.5" height="9.5" fill="none" stroke="#009900" stroke-width="3.4"/>
<rect x="648.75" y="375.29" width="9.5" height="9.5" fill="none" stroke="#009900" stroke-width="3.4"/>
<polyline points="411.8,450.53 472.23,340.6 532.65,245.64 593.08,468.75 653.5,470.57" stroke="#B38000" stroke-width="3.6" fill="none" stroke-dasharray="11 2.8 5.2 2.8"/>
<polygon points="411.8,442.1 404.5,454.75 419.1,454.75" fill="none" stroke="#B38000" stroke-width="3.4" stroke-linejoin="miter" stroke-miterlimit="10"/>
<polygon points="472.23,332.17 464.93,344.82 479.53,344.82" fill="none" stroke="#B38000" stroke-width="3.4" stroke-linejoin="miter" stroke-miterlimit="10"/>
<polygon points="532.65,237.21 525.35,249.86 539.95,249.86" fill="none" stroke="#B38000" stroke-width="3.4" stroke-linejoin="miter" stroke-miterlimit="10"/>
<polygon points="593.08,460.32 585.78,472.96 600.38,472.96" fill="none" stroke="#B38000" stroke-width="3.4" stroke-linejoin="miter" stroke-miterlimit="10"/>
<polygon points="653.5,462.14 646.2,474.78 660.8,474.78" fill="none" stroke="#B38000" stroke-width="3.4" stroke-linejoin="miter" stroke-miterlimit="10"/>
<polyline points="411.8,460.04 472.23,407.76 532.65,365.87 593.08,264.41 653.5,114.72" stroke="#B38000" stroke-width="3.6" fill="none" stroke-dasharray="11 2.8 5.2 2.8"/>
<polygon points="411.8,468.47 404.5,455.82 419.1,455.82" fill="none" stroke="#B38000" stroke-width="3.4" stroke-linejoin="miter" stroke-miterlimit="10"/>
<polygon points="472.23,416.19 464.93,403.55 479.53,403.55" fill="none" stroke="#B38000" stroke-width="3.4" stroke-linejoin="miter" stroke-miterlimit="10"/>
<polygon points="532.65,374.3 525.35,361.65 539.95,361.65" fill="none" stroke="#B38000" stroke-width="3.4" stroke-linejoin="miter" stroke-miterlimit="10"/>
<polygon points="593.08,272.84 585.78,260.2 600.38,260.2" fill="none" stroke="#B38000" stroke-width="3.4" stroke-linejoin="miter" stroke-miterlimit="10"/>
<polygon points="653.5,123.15 646.2,110.51 660.8,110.51" fill="none" stroke="#B38000" stroke-width="3.4" stroke-linejoin="miter" stroke-miterlimit="10"/>
<rect x="0.8" y="0.5" width="683.5" height="57" fill="#fff" stroke="#555" stroke-width="1.2"/>
<line x1="5.7" y1="15.4" x2="54.2" y2="15.4" stroke="#000000" stroke-width="4.7" fill="none" stroke-dasharray="4.8 4.9"/>
<text x="57.4" y="23.7" font-size="20.8">initial</text>
<line x1="119.3" y1="15.4" x2="167.8" y2="15.4" stroke="#0000FF" stroke-width="4.7" fill="none" stroke-dasharray="4.8 4.9"/>
<path d="M138.95,10.8L148.15,20M138.95,20L148.15,10.8" stroke="#0000FF" stroke-width="4.3" fill="none"/>
<text x="171" y="23.7" font-size="20.8">aMVDR</text>
<line x1="253.2" y1="15.4" x2="301.7" y2="15.4" stroke="#037FCC" stroke-width="3.6" fill="none" stroke-dasharray="10.8 11.2"/>
<polygon points="277.45,6.97 270.15,19.61 284.75,19.61" fill="none" stroke="#037FCC" stroke-width="3.4" stroke-linejoin="miter" stroke-miterlimit="10"/>
<text x="304.9" y="23.7" font-size="20.8">FICA</text>
<line x1="389.9" y1="15.4" x2="438.4" y2="15.4" stroke="#037FCC" stroke-width="3.6" fill="none" stroke-dasharray="10.8 11.2"/>
<rect x="409.4" y="10.65" width="9.5" height="9.5" fill="none" stroke="#037FCC" stroke-width="3.4"/>
<text x="441.6" y="23.7" font-size="20.8">FICA-G</text>
<line x1="539.7" y1="15.4" x2="588.2" y2="15.4" stroke="#037FCC" stroke-width="3.6" fill="none" stroke-dasharray="10.8 11.2"/>
<polygon points="563.95,23.83 556.65,11.19 571.25,11.19" fill="none" stroke="#037FCC" stroke-width="3.4" stroke-linejoin="miter" stroke-miterlimit="10"/>
<text x="591.4" y="23.7" font-size="20.8">FIVA</text>
<line x1="5.7" y1="42" x2="54.2" y2="42" stroke="#FF3300" stroke-width="3.6" fill="none" stroke-linejoin="round"/>
<polygon points="29.95,33.57 22.65,46.21 37.25,46.21" fill="none" stroke="#FF3300" stroke-width="3.4" stroke-linejoin="miter" stroke-miterlimit="10"/>
<text x="57.4" y="50" font-size="20.8">iFICA</text>
<line x1="119.3" y1="42" x2="167.8" y2="42" stroke="#FF3300" stroke-width="3.6" fill="none" stroke-linejoin="round"/>
<polygon points="143.55,50.43 136.25,37.79 150.85,37.79" fill="none" stroke="#FF3300" stroke-width="3.4" stroke-linejoin="miter" stroke-miterlimit="10"/>
<text x="171" y="50" font-size="20.8">iFIVA</text>
<line x1="253.2" y1="42" x2="301.7" y2="42" stroke="#009900" stroke-width="3.6" fill="none" stroke-linejoin="round"/>
<rect x="272.7" y="37.25" width="9.5" height="9.5" fill="none" stroke="#009900" stroke-width="3.4"/>
<text x="304.9" y="50" font-size="20.8">iFICA-G</text>
<line x1="389.9" y1="42" x2="438.4" y2="42" stroke="#B38000" stroke-width="3.6" fill="none" stroke-dasharray="11 2.8 5.2 2.8"/>
<polygon points="414.15,33.57 406.85,46.21 421.45,46.21" fill="none" stroke="#B38000" stroke-width="3.4" stroke-linejoin="miter" stroke-miterlimit="10"/>
<text x="441.6" y="50" font-size="20.8">p-AuxICA</text>
<line x1="539.7" y1="42" x2="588.2" y2="42" stroke="#B38000" stroke-width="3.6" fill="none" stroke-dasharray="11 2.8 5.2 2.8"/>
<polygon points="563.95,50.43 556.65,37.79 571.25,37.79" fill="none" stroke="#B38000" stroke-width="3.4" stroke-linejoin="miter" stroke-miterlimit="10"/>
<text x="591.4" y="50" font-size="20.8">p-AuxIVA</text>
</svg>
</body></html>
